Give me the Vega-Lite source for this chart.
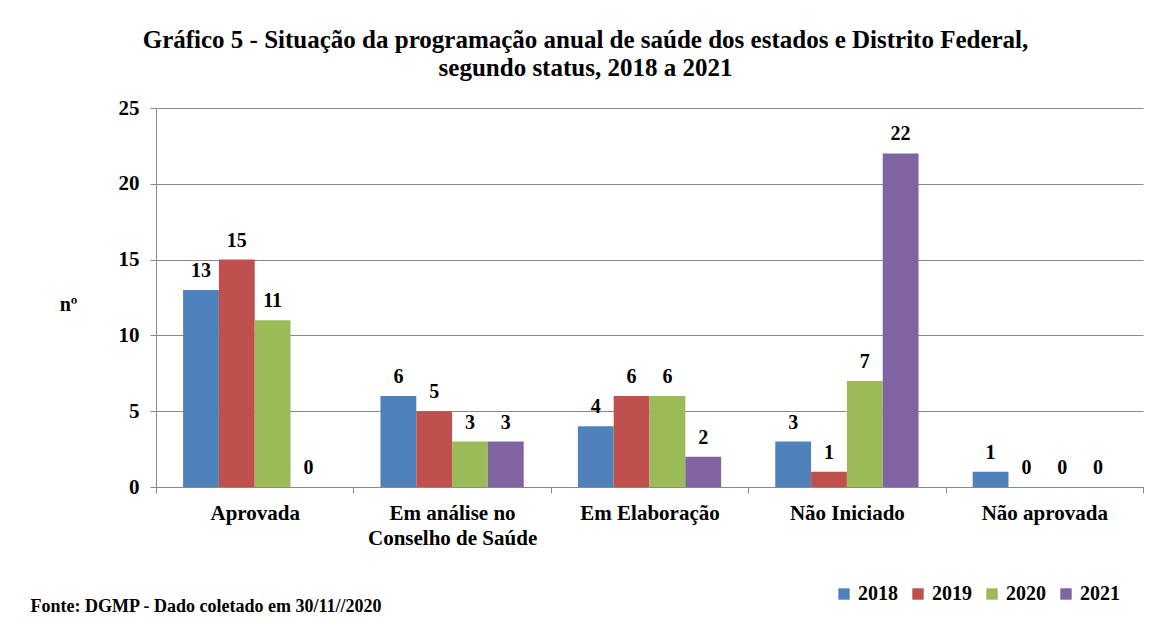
{
  "$schema": "https://vega.github.io/schema/vega-lite/v6.json",
  "autosize": {"type": "none"},
  "width": 987,
  "height": 379,
  "padding": {"left": 156, "top": 108, "right": 10, "bottom": 133},
  "background": "white",
  "title": {
    "text": ["Gráfico 5 - Situação da programação  anual de saúde  dos estados e  Distrito Federal,", "segundo status,  2018  a  2021"],
    "font": "Liberation Serif",
    "fontSize": 25,
    "fontWeight": "bold",
    "color": "black",
    "anchor": "middle",
    "dx": -64,
    "offset": 16,
    "lineHeight": 28
  },
  "data": {
    "values": [
      {"status": "Aprovada", "ano": "2018", "n": 13},
      {"status": "Aprovada", "ano": "2019", "n": 15},
      {"status": "Aprovada", "ano": "2020", "n": 11},
      {"status": "Aprovada", "ano": "2021", "n": 0},
      {"status": "Em análise no Conselho de Saúde", "ano": "2018", "n": 6},
      {"status": "Em análise no Conselho de Saúde", "ano": "2019", "n": 5},
      {"status": "Em análise no Conselho de Saúde", "ano": "2020", "n": 3},
      {"status": "Em análise no Conselho de Saúde", "ano": "2021", "n": 3},
      {"status": "Em Elaboração", "ano": "2018", "n": 4},
      {"status": "Em Elaboração", "ano": "2019", "n": 6},
      {"status": "Em Elaboração", "ano": "2020", "n": 6},
      {"status": "Em Elaboração", "ano": "2021", "n": 2},
      {"status": "Não Iniciado", "ano": "2018", "n": 3},
      {"status": "Não Iniciado", "ano": "2019", "n": 1},
      {"status": "Não Iniciado", "ano": "2020", "n": 7},
      {"status": "Não Iniciado", "ano": "2021", "n": 22},
      {"status": "Não aprovada", "ano": "2018", "n": 1},
      {"status": "Não aprovada", "ano": "2019", "n": 0},
      {"status": "Não aprovada", "ano": "2020", "n": 0},
      {"status": "Não aprovada", "ano": "2021", "n": 0}
    ]
  },
  "encoding": {
    "x": {
      "field": "status",
      "type": "nominal",
      "sort": null,
      "scale": {"paddingInner": 0, "paddingOuter": 0},
      "axis": {
        "title": "Fonte:   DGMP - Dado coletado em 30/11//2020",
        "titleFont": "Liberation Serif",
        "titleFontSize": 18,
        "titleFontWeight": "bold",
        "titleColor": "black",
        "titleAnchor": "start",
        "titleAlign": "left",
        "titleBaseline": "alphabetic",
        "titleX": -126,
        "titleY": 124,
        "labelAngle": 0,
        "labelFont": "Liberation Serif",
        "labelFontSize": 21,
        "labelFontWeight": "bold",
        "labelColor": "black",
        "labelPadding": 9,
        "labelLineHeight": 25,
        "labelExpr": "datum.label == 'Em análise no Conselho de Saúde' ? ['Em análise no', 'Conselho de Saúde'] : datum.label",
        "tickBand": "extent",
        "tickSize": 6,
        "tickColor": "#8a8a8a",
        "domainColor": "#8a8a8a",
        "grid": false
      }
    },
    "xOffset": {
      "field": "ano",
      "type": "nominal",
      "scale": {"paddingInner": 0, "paddingOuter": 0.756}
    },
    "y": {
      "field": "n",
      "type": "quantitative",
      "scale": {"domain": [0, 25], "nice": false},
      "axis": {
        "values": [0, 5, 10, 15, 20, 25],
        "title": "nº",
        "titleAngle": 0,
        "titleFont": "Liberation Serif",
        "titleFontSize": 20,
        "titleFontWeight": "bold",
        "titleColor": "black",
        "titleAlign": "center",
        "titleBaseline": "middle",
        "titleX": -88,
        "titleY": 196,
        "labelFont": "Liberation Serif",
        "labelFontSize": 21,
        "labelFontWeight": "bold",
        "labelColor": "black",
        "labelPadding": 11,
        "tickSize": 6,
        "tickColor": "#8a8a8a",
        "domainColor": "#8a8a8a",
        "grid": true,
        "gridColor": "#8a8a8a",
        "gridWidth": 1
      }
    }
  },
  "layer": [
    {
      "mark": {"type": "bar"},
      "encoding": {
        "color": {
          "field": "ano",
          "type": "nominal",
          "scale": {"domain": ["2018", "2019", "2020", "2021"], "range": ["#4F81BD", "#C0504D", "#9BBB59", "#8064A2"]},
          "legend": {
            "title": null,
            "orient": "none",
            "direction": "horizontal",
            "legendX": 678,
            "legendY": 476,
            "symbolType": "square",
            "symbolSize": 130,
            "symbolStrokeWidth": 0,
            "labelFont": "Liberation Serif",
            "labelFontSize": 20,
            "labelFontWeight": "bold",
            "labelColor": "black",
            "labelOffset": 4,
            "columnPadding": 10
          }
        }
      }
    },
    {
      "mark": {
        "type": "text",
        "baseline": "alphabetic",
        "dy": -13,
        "font": "Liberation Serif",
        "fontSize": 20,
        "fontWeight": "bold",
        "color": "black"
      },
      "encoding": {"text": {"field": "n", "type": "quantitative"}}
    }
  ],
  "config": {
    "view": {"stroke": null}
  }
}
